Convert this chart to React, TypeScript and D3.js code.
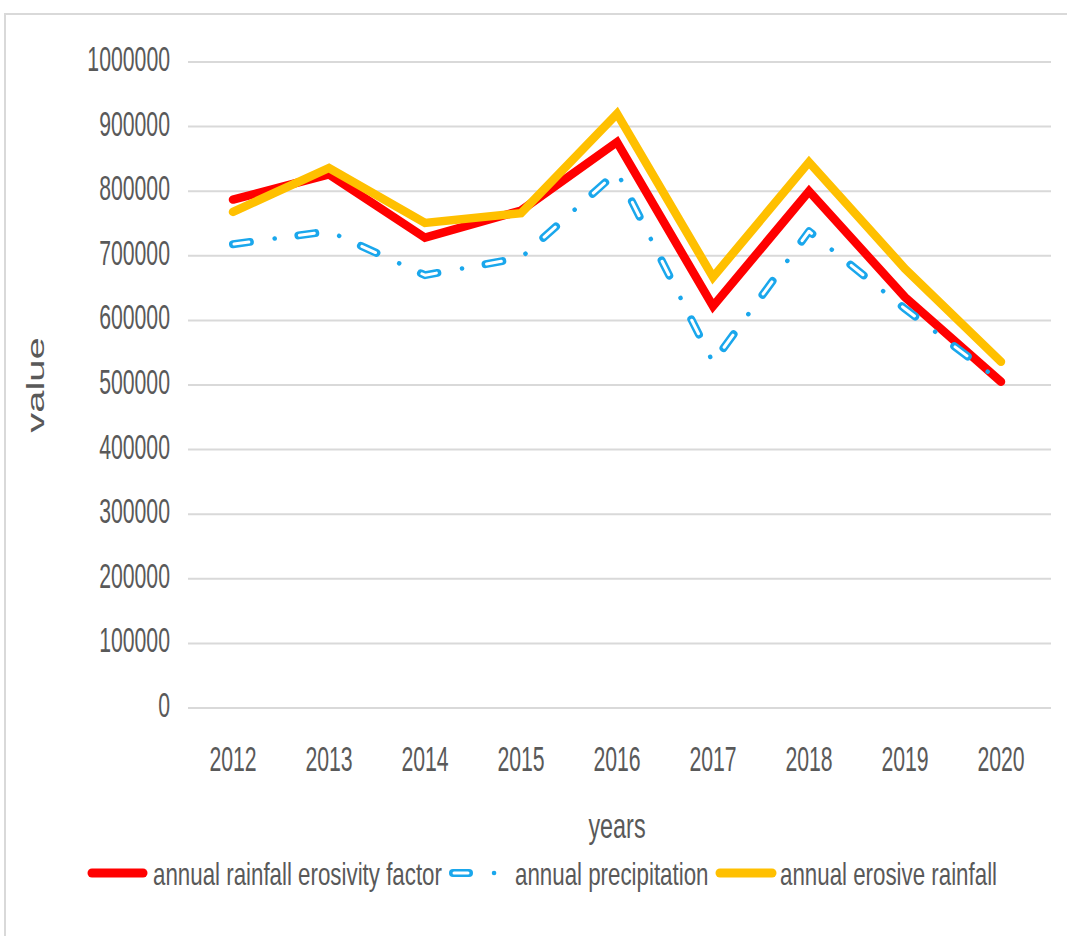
import React from 'react';
import * as d3 from 'd3';

const years = ['2012', '2013', '2014', '2015', '2016', '2017', '2018', '2019', '2020'];
const erosivityFactor = [787000, 826000, 728000, 770000, 876000, 622000, 800000, 636000, 505000];
const precipitation = [718000, 738000, 670000, 697000, 830000, 535000, 738000, 618000, 505000];
const erosiveRainfall = [768000, 836000, 751000, 766000, 920000, 667000, 845000, 680000, 536000];
const yTicks = [0, 100000, 200000, 300000, 400000, 500000, 600000, 700000, 800000, 900000, 1000000];
const legendLabels = ['annual rainfall erosivity factor', 'annual precipitation', 'annual erosive rainfall'];

const W = 1067;
const H = 936;
const FONT = '"Liberation Sans", Arial, sans-serif';
const TXT = '#595959';
const RED = '#ff0000';
const BLUE = '#1aa7ec';
const YELLOW = '#ffc000';

const x = d3.scalePoint<string>().domain(years).range([233, 1001]);
const y = d3.scaleLinear().domain([0, 1000000]).range([708, 62]);
const line = d3.line<number>().x((_, i) => x(years[i]) as number).y((d) => y(d));

function SText({ x0, y0, sx, sy = 1, size, anchor, rotate = 0, children }: any) {
  return (
    <g transform={`translate(${x0},${y0}) rotate(${rotate}) scale(${sx},${sy})`}>
      <text x={0} y={0} fontFamily={FONT} fontSize={size} fill={TXT} textAnchor={anchor}>
        {children}
      </text>
    </g>
  );
}

function DashDot({ d }: { d: string }) {
  return (
    <g>
      <path d={d} fill="none" stroke={BLUE} strokeWidth={8} strokeLinecap="round" strokeLinejoin="round" strokeDasharray="17 49" />
      <path d={d} fill="none" stroke="#ffffff" strokeWidth={3} strokeLinecap="round" strokeLinejoin="round" strokeDasharray="15 51" strokeDashoffset={-1} />
      <path d={d} fill="none" stroke={BLUE} strokeWidth={4.5} strokeLinecap="round" strokeDasharray="0.1 65.9" strokeDashoffset={24} />
    </g>
  );
}

export default function App() {
  const legendX = [88, 449, 716];
  const legendTextX = [153, 515, 780];
  const ly = 873;
  return (
    <svg width={W} height={H} style={{ position: 'absolute', left: 0, top: 0, background: '#fff' }}>
      <rect x={0} y={0} width={W} height={H} fill="#ffffff" />
      <path d={`M5,${H} L5,14 L${W},14`} fill="none" stroke="#d9d9d9" strokeWidth={2} />
      {yTicks.map((t) => (
        <g key={t}>
          <line x1={188} x2={1051} y1={y(t)} y2={y(t)} stroke="#d9d9d9" strokeWidth={2} />
          <SText x0={170} y0={y(t) + 9} sx={0.59} size={36} anchor="end">{String(t)}</SText>
        </g>
      ))}
      {years.map((yr) => (
        <SText key={yr} x0={x(yr)} y0={771} sx={0.59} size={36} anchor="middle">{yr}</SText>
      ))}
      <SText x0={617} y0={838} sx={0.65} size={36} anchor="middle">years</SText>
      <SText x0={44} y0={385} sx={1} sy={0.6} size={40} anchor="middle" rotate={-90}>value</SText>

      <path d={line(erosivityFactor) || ''} fill="none" stroke={RED} strokeWidth={8.5} strokeLinejoin="miter" strokeLinecap="round" />
      <DashDot d={line(precipitation) || ''} />
      <path d={line(erosiveRainfall) || ''} fill="none" stroke={YELLOW} strokeWidth={8.5} strokeLinejoin="miter" strokeLinecap="round" />

      <line x1={legendX[0] + 4} x2={legendX[0] + 55} y1={ly} y2={ly} stroke={RED} strokeWidth={9} strokeLinecap="round" />
      <line x1={legendX[1] + 4} x2={legendX[1] + 20} y1={ly} y2={ly} stroke={BLUE} strokeWidth={8} strokeLinecap="round" />
      <line x1={legendX[1] + 5} x2={legendX[1] + 19} y1={ly} y2={ly} stroke="#ffffff" strokeWidth={3} strokeLinecap="round" />
      <line x1={legendX[1] + 45} x2={legendX[1] + 45.1} y1={ly} y2={ly} stroke={BLUE} strokeWidth={4.5} strokeLinecap="round" />
      <line x1={legendX[2] + 4} x2={legendX[2] + 56} y1={ly} y2={ly} stroke={YELLOW} strokeWidth={9} strokeLinecap="round" />
      {legendLabels.map((l, i) => (
        <SText key={l} x0={legendTextX[i]} y0={885} sx={0.72} size={31} anchor="start">{l}</SText>
      ))}
    </svg>
  );
}
